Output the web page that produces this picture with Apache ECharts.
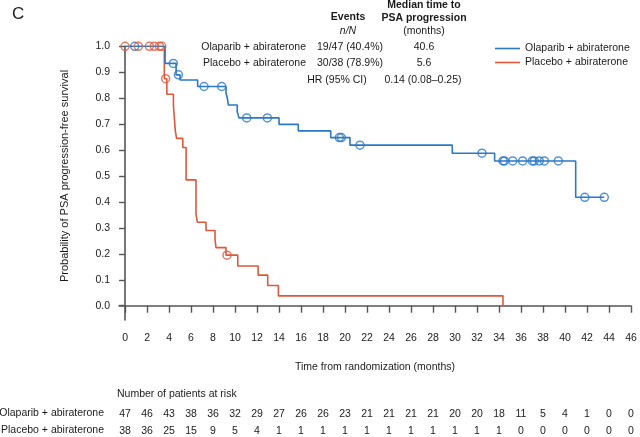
<!DOCTYPE html>
<html>
<head>
<meta charset="utf-8">
<script src="https://cdn.jsdelivr.net/npm/echarts@6/dist/echarts.min.js"></script>
<style>html,body{margin:0;padding:0;background:#fff}#c{width:640px;height:437px}</style>
</head>
<body>
<div id="c"></div>
<script>
// ---- data ----
const xTicks = [0,2,4,6,8,10,12,14,16,18,20,22,24,26,28,30,32,34,36,38,40,42,44,46];
const yTicks = [0,0.1,0.2,0.3,0.4,0.5,0.6,0.7,0.8,0.9,1.0];
const olapRisk = [47,46,43,38,36,32,29,27,26,26,23,21,21,21,21,20,20,18,11,5,4,1,0,0];
const placRisk = [38,36,25,15,9,5,4,1,1,1,1,1,1,1,1,1,1,1,0,0,0,0,0,0];
const olapTimes = [0,3.64,4.64,5.0,6.6,9.18,9.3,9.39,10.2,10.36,14.0,15.75,18.7,20.45,29.75,33.6,40.97,43.57];
const olapSurv  = [1,0.934,0.89,0.87,0.845,0.82,0.80,0.774,0.748,0.724,0.699,0.674,0.648,0.619,0.588,0.558,0.418,0.418];
const placTimes = [0,3.57,3.8,4.4,4.57,4.68,5.25,5.55,6.45,6.57,7.36,8.18,8.27,9.18,10.25,12.1,12.97,13.94,34.36];
const placSurv  = [1,0.875,0.815,0.77,0.675,0.645,0.61,0.485,0.354,0.322,0.29,0.256,0.224,0.195,0.153,0.118,0.078,0.038,0.0];
const olapCensor = [0.88,4.39,4.85,7.18,8.79,11.06,12.94,19.48,19.66,21.36,32.45,34.36,34.5,35.25,36.15,37.03,37.2,37.66,38.12,39.39,41.8,43.57];
const placCensor = [0,1.21,2.21,2.66,3.12,3.34,3.69,9.27];
const olapName = 'Olaparib + abiraterone';
const placName = 'Placebo + abiraterone';

// ---- build ----
const BLUE = '#2b78c5', RED = '#e0573a', FONT = '"Liberation Sans", Arial, sans-serif', TXT = '#1a1a1a';
function pairs(t, s){ return t.map((v,i)=>[v, s[i]]); }
function survAt(t, times, surv){ let k = 0; for (let i=0;i<times.length;i++){ if (times[i] <= t) k = i; } return surv[k]; }
const olapCens = olapCensor.map(t => [t, survAt(t, olapTimes, olapSurv)]);
const placCens = placCensor.map(t => [t, survAt(t, placTimes, placSurv)]);

function riskAxis(offset, arr){
  return {
    type:'value', min:-0.55, max:46, position:'bottom', offset: offset,
    axisLine:{show:false}, axisTick:{show:false}, splitLine:{show:false},
    axisLabel:{customValues:xTicks, margin:7, color:TXT, fontSize:10.5, fontFamily:FONT,
      formatter: v => { const i = xTicks.indexOf(v); return i >= 0 ? String(arr[i]) : ''; }}
  };
}

function txt(x, y, s, opt){
  return Object.assign({type:'text', x:x, y:y, style:Object.assign({text:s, fill:TXT, font:'10.5px ' + FONT, textAlign:'center', textVerticalAlign:'middle'}, opt||{})});
}

const chart = echarts.init(document.getElementById('c'));
chart.setOption({
  animation:false,
  backgroundColor:'#fff',
  grid:{left:119, right:9, top:46.3, bottom:117, containLabel:false},
  legend:{
    data:[olapName, placName], orient:'vertical', left:490, top:38, icon:'rect',
    itemWidth:25, itemHeight:1.6, itemGap:3,
    textStyle:{color:TXT, fontSize:10.5, fontFamily:FONT}
  },
  xAxis:[
    {type:'value', min:-0.55, max:46,
     name:'Time from randomization (months)', nameLocation:'middle', nameGap:42,
     nameTextStyle:{color:TXT, fontSize:10.5, fontFamily:FONT},
     axisLine:{show:true, lineStyle:{color:'#555', width:1.6}},
     axisTick:{show:true, customValues:xTicks, length:7, lineStyle:{color:'#555', width:1.4}},
     axisLabel:{customValues:xTicks, margin:12.5, color:TXT, fontSize:10.5, fontFamily:FONT},
     splitLine:{show:false}},
    riskAxis(81.5, olapRisk),
    riskAxis(99, placRisk)
  ],
  yAxis:{type:'value', min:-0.055, max:1.0,
    axisLine:{show:true, lineStyle:{color:'#555', width:1.6}},
    axisTick:{show:true, customValues:yTicks, length:6, lineStyle:{color:'#555', width:1.4}},
    axisLabel:{customValues:yTicks, margin:9, color:TXT, fontSize:10.5, fontFamily:FONT, formatter:v=>v.toFixed(1)},
    splitLine:{show:false}},
  series:[
    {name:olapName, type:'line', step:'end', data:pairs(olapTimes, olapSurv), showSymbol:false, symbol:'none',
     lineStyle:{color:BLUE, width:1.6}, itemStyle:{color:BLUE}, z:3},
    {name:placName, type:'line', step:'end', data:pairs(placTimes, placSurv), showSymbol:false, symbol:'none',
     lineStyle:{color:RED, width:1.6}, itemStyle:{color:RED}, z:2},
    {name:'olapC', type:'scatter', data:olapCens, symbol:'circle', symbolSize:8,
     itemStyle:{color:'rgba(0,0,0,0)', borderColor:BLUE, borderWidth:1.5}, z:4},
    {name:'placC', type:'scatter', data:placCens, symbol:'circle', symbolSize:8,
     itemStyle:{color:'rgba(0,0,0,0)', borderColor:RED, borderWidth:1.5}, z:4}
  ],
  graphic:[
    txt(12, 14, 'C', {font:'17px ' + FONT, textAlign:'left'}),
    {type:'text', x:65, y:176, rotation:Math.PI/2,
     style:{text:'Probability of PSA progression-free survival', fill:TXT, font:'11px ' + FONT, textAlign:'center', textVerticalAlign:'middle'}},
    txt(348, 17, 'Events', {font:'bold 10.5px ' + FONT}),
    txt(348, 31, 'n/N', {font:'italic 10.5px ' + FONT}),
    txt(424, 5, 'Median time to', {font:'bold 10.5px ' + FONT}),
    txt(424, 18, 'PSA progression', {font:'bold 10.5px ' + FONT}),
    txt(424, 31, '(months)'),
    txt(306, 47.5, olapName, {textAlign:'right'}),
    txt(350, 47.5, '19/47 (40.4%)'),
    txt(424, 47.5, '40.6'),
    txt(306, 63, placName, {textAlign:'right'}),
    txt(350, 63, '30/38 (78.9%)'),
    txt(424, 63, '5.6'),
    txt(337, 80, 'HR (95% CI)'),
    txt(423, 80, '0.14 (0.08\u20130.25)'),
    txt(117, 394, 'Number of patients at risk', {textAlign:'left'}),
    txt(104, 413, olapName, {textAlign:'right'}),
    txt(104, 430, placName, {textAlign:'right'})
  ]
});
</script>
</body>
</html>
